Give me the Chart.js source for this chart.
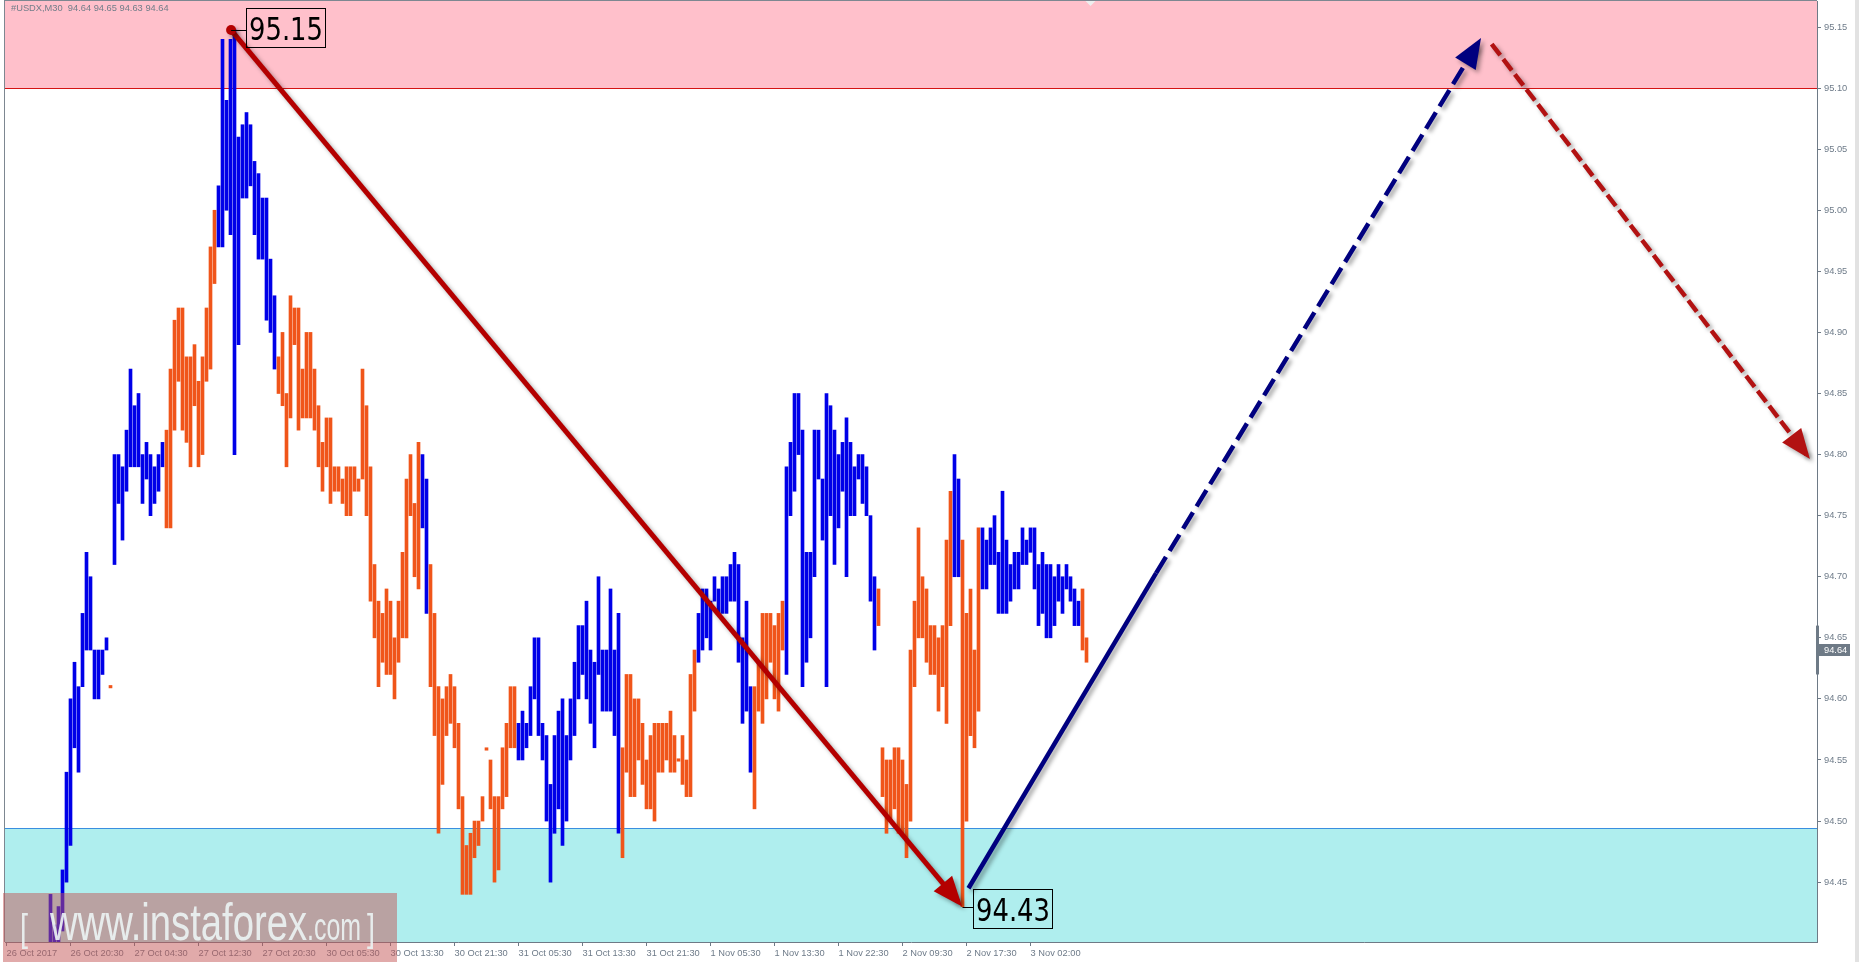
<!DOCTYPE html>
<html lang="en">
<head>
<meta charset="utf-8">
<title>#USDX,M30</title>
<script src="https://cdn.jsdelivr.net/npm/chart.js@4.4.1/dist/chart.umd.min.js"></script>
<style>
  html, body { margin: 0; padding: 0; background: #fff; overflow: hidden; }
  canvas { display: block; }
</style>
</head>
<body>
<canvas id="usdxChart" width="1859" height="962"></canvas>
<script>
// USDX M30, 26 Oct - 3 Nov 2017, with the wave markup
const symbolName = '#USDX,M30';
const lastQuote = [94.64, 94.65, 94.63, 94.64]; // open high low close of the last bar

const timeLabels = ['26 Oct 2017', '26 Oct 20:30', '27 Oct 04:30', '27 Oct 12:30', '27 Oct 20:30',
    '30 Oct 05:30', '30 Oct 13:30', '30 Oct 21:30', '31 Oct 05:30', '31 Oct 13:30', '31 Oct 21:30',
    '1 Nov 05:30', '1 Nov 13:30', '1 Nov 22:30', '2 Nov 09:30', '2 Nov 17:30', '3 Nov 02:00'];
const labelEvery = 16; // one time label every 16 bars
const priceTicks = [94.45, 94.50, 94.55, 94.60, 94.65, 94.70, 94.75, 94.80, 94.85, 94.90, 94.95, 95.00, 95.05, 95.10, 95.15];

const firstBar = 11; // the bars before this one are below the visible range
const highs = [
    94.44, 94.415, 94.43, 94.46, 94.54, 94.60, 94.63, 94.61, 94.67, 94.72, 94.70, 94.64, 94.64, 94.64, 94.65, 94.611, 94.80, 94.80, 94.79, 94.82,
    94.87, 94.84, 94.85, 94.80, 94.81, 94.80, 94.79, 94.80, 94.81, 94.82, 94.87, 94.91, 94.92, 94.92, 94.88, 94.88, 94.89, 94.86, 94.88, 94.92,
    94.97, 95.00, 95.02, 95.14, 95.09, 95.14, 95.148, 95.06, 95.07, 95.08, 95.07, 95.04, 95.03, 95.01, 95.01, 94.96, 94.93, 94.88, 94.90, 94.85,
    94.93, 94.92, 94.92, 94.87, 94.90, 94.90, 94.87, 94.84, 94.81, 94.83, 94.83, 94.79, 94.79, 94.78, 94.79, 94.79, 94.79, 94.78, 94.87, 94.84,
    94.79, 94.71, 94.68, 94.67, 94.69, 94.68, 94.65, 94.68, 94.72, 94.78, 94.80, 94.76, 94.81, 94.80, 94.78, 94.71, 94.67, 94.61, 94.60, 94.61,
    94.62, 94.61, 94.58, 94.52, 94.48, 94.49, 94.50, 94.50, 94.52, 94.560, 94.55, 94.52, 94.52, 94.56, 94.58, 94.61, 94.61, 94.58, 94.59, 94.58,
    94.61, 94.65, 94.65, 94.58, 94.57, 94.53, 94.57, 94.59, 94.60, 94.57, 94.60, 94.63, 94.66, 94.66, 94.68, 94.64, 94.63, 94.70, 94.64, 94.64,
    94.69, 94.64, 94.67, 94.56, 94.62, 94.62, 94.60, 94.60, 94.58, 94.55, 94.57, 94.58, 94.58, 94.58, 94.58, 94.59, 94.57, 94.551, 94.57, 94.55,
    94.62, 94.64, 94.67, 94.69, 94.69, 94.68, 94.70, 94.69, 94.70, 94.70, 94.71, 94.72, 94.71, 94.65, 94.68, 94.61, 94.61, 94.63, 94.67, 94.67,
    94.67, 94.66, 94.67, 94.68, 94.79, 94.81, 94.85, 94.85, 94.82, 94.72, 94.72, 94.82, 94.82, 94.78, 94.85, 94.84, 94.82, 94.80, 94.81, 94.83,
    94.81, 94.79, 94.80, 94.80, 94.79, 94.75, 94.70, 94.69, 94.56, 94.55, 94.55, 94.56, 94.56, 94.55, 94.53, 94.64, 94.68, 94.74, 94.70, 94.69,
    94.66, 94.66, 94.65, 94.66, 94.73, 94.77, 94.80, 94.78, 94.73, 94.67, 94.69, 94.64, 94.74, 94.74, 94.73, 94.74, 94.75, 94.72, 94.77, 94.73,
    94.71, 94.72, 94.72, 94.74, 94.73, 94.74, 94.74, 94.71, 94.72, 94.71, 94.71, 94.70, 94.71, 94.70, 94.71, 94.70, 94.69, 94.68, 94.69, 94.65
];
const lows = [
    94.37, 94.37, 94.37, 94.41, 94.45, 94.48, 94.56, 94.54, 94.61, 94.64, 94.64, 94.60, 94.60, 94.62, 94.64, 94.609, 94.71, 94.76, 94.73, 94.77,
    94.79, 94.79, 94.79, 94.76, 94.78, 94.75, 94.76, 94.77, 94.79, 94.74, 94.74, 94.82, 94.86, 94.82, 94.81, 94.79, 94.84, 94.79, 94.80, 94.86,
    94.87, 94.94, 94.97, 94.97, 95.00, 94.98, 94.80, 94.89, 95.01, 95.01, 95.02, 94.98, 94.96, 94.96, 94.91, 94.90, 94.87, 94.85, 94.84, 94.79,
    94.83, 94.89, 94.82, 94.83, 94.83, 94.83, 94.82, 94.79, 94.77, 94.79, 94.76, 94.77, 94.77, 94.76, 94.75, 94.75, 94.77, 94.77, 94.78, 94.75,
    94.68, 94.65, 94.61, 94.63, 94.62, 94.62, 94.60, 94.63, 94.65, 94.65, 94.75, 94.70, 94.69, 94.74, 94.67, 94.61, 94.57, 94.49, 94.53, 94.57,
    94.58, 94.56, 94.51, 94.44, 94.44, 94.44, 94.47, 94.48, 94.50, 94.558, 94.51, 94.45, 94.46, 94.51, 94.52, 94.56, 94.56, 94.55, 94.55, 94.56,
    94.57, 94.60, 94.57, 94.55, 94.50, 94.45, 94.49, 94.51, 94.48, 94.50, 94.55, 94.57, 94.60, 94.62, 94.60, 94.58, 94.56, 94.62, 94.59, 94.59,
    94.59, 94.57, 94.49, 94.47, 94.54, 94.52, 94.52, 94.55, 94.53, 94.51, 94.51, 94.50, 94.54, 94.54, 94.55, 94.54, 94.54, 94.549, 94.53, 94.52,
    94.52, 94.59, 94.63, 94.64, 94.65, 94.64, 94.68, 94.67, 94.67, 94.67, 94.68, 94.68, 94.63, 94.58, 94.59, 94.54, 94.51, 94.59, 94.58, 94.60,
    94.63, 94.60, 94.59, 94.64, 94.62, 94.75, 94.77, 94.80, 94.61, 94.63, 94.65, 94.70, 94.78, 94.73, 94.61, 94.75, 94.71, 94.74, 94.77, 94.70,
    94.75, 94.75, 94.78, 94.76, 94.75, 94.68, 94.64, 94.66, 94.52, 94.49, 94.50, 94.51, 94.49, 94.49, 94.47, 94.50, 94.61, 94.65, 94.65, 94.63,
    94.62, 94.62, 94.59, 94.61, 94.58, 94.66, 94.70, 94.70, 94.43, 94.50, 94.57, 94.56, 94.59, 94.69, 94.69, 94.71, 94.71, 94.67, 94.67, 94.67,
    94.68, 94.69, 94.69, 94.71, 94.71, 94.72, 94.69, 94.66, 94.67, 94.65, 94.65, 94.66, 94.68, 94.67, 94.69, 94.68, 94.66, 94.66, 94.64, 94.63
];
// 1 = bar closed up (blue), 0 = bar closed down (orange)
const rising = [
    1, 1, 1, 1, 1, 1, 1, 1, 1, 1, 1, 1, 1, 1, 1, 0, 1, 1, 1, 1,
    1, 1, 1, 1, 1, 1, 1, 1, 1, 0, 0, 0, 0, 0, 0, 0, 0, 0, 0, 0,
    0, 0, 1, 1, 1, 1, 1, 1, 1, 1, 1, 1, 1, 1, 1, 1, 1, 0, 0, 0,
    0, 0, 0, 0, 0, 0, 0, 0, 0, 0, 0, 0, 0, 0, 0, 0, 0, 0, 0, 0,
    0, 0, 0, 0, 0, 0, 0, 0, 0, 0, 0, 0, 0, 1, 1, 0, 0, 0, 0, 0,
    0, 0, 0, 0, 0, 0, 0, 0, 0, 0, 0, 0, 0, 0, 0, 0, 0, 1, 1, 1,
    1, 1, 1, 1, 1, 1, 1, 1, 1, 1, 1, 1, 1, 1, 1, 1, 1, 1, 1, 1,
    1, 1, 1, 0, 0, 0, 0, 0, 0, 0, 0, 0, 0, 0, 0, 0, 0, 0, 0, 0,
    0, 0, 1, 1, 1, 1, 1, 1, 1, 1, 1, 1, 1, 1, 1, 1, 0, 0, 0, 0,
    0, 0, 0, 0, 1, 1, 1, 1, 1, 1, 1, 1, 1, 1, 1, 1, 1, 1, 1, 1,
    1, 1, 1, 1, 1, 1, 1, 0, 0, 0, 0, 0, 0, 0, 0, 0, 0, 0, 0, 0,
    0, 0, 0, 0, 0, 0, 1, 1, 0, 0, 0, 0, 0, 1, 1, 1, 1, 1, 1, 1,
    1, 1, 1, 1, 1, 1, 1, 1, 1, 1, 1, 1, 1, 1, 1, 1, 1, 1, 0, 0
];

// zones
const sellZone = [95.10, 95.30];
const buyZone = [94.30, 94.494];

// wave lines, [bar, price]
const waveDown = [[56.15, 95.1475], [237.9, 94.434]];
const waveUp = [[240.5, 94.445], [287.4, 94.703]];
const waveUpNext = [[287.4, 94.703], [367.9, 95.137]];
const waveDownNext = [[371.3, 95.136], [450, 94.80]];

const peakLabel = { bar: 56.15, price: 95.1475, text: '95.15' };
const lowLabel = { bar: 239, price: 94.43, text: '94.43' };
const lastPrice = 94.64;
const lastRange = [94.62, 94.66];

const BLUE = '#0000e8';
const ORANGE = '#f0551a';
const AXIS_TEXT = '#6e7b89';
const AXIS_LINE = '#6e7a86';
const SMALL_FONT = '"Liberation Sans", Arial, sans-serif';

function fitText(ctx, text, font, left, baseline, width) {
    ctx.font = font;
    const w = ctx.measureText(text).width;
    ctx.save();
    ctx.translate(left, baseline);
    ctx.scale(width / w, 1);
    ctx.textAlign = 'left';
    ctx.textBaseline = 'alphabetic';
    ctx.fillText(text, 0, 0);
    ctx.restore();
}

function waveSet(points, colour, width, dash, head, dot) {
    return {
        type: 'line',
        data: points.map(p => ({ x: p[0], y: p[1] })),
        borderColor: colour,
        borderWidth: width,
        borderDash: dash,
        pointRadius: points.map((p, i) => (i === 0 ? dot : 0)),
        pointBackgroundColor: colour,
        pointBorderWidth: 0,
        fill: false,
        tension: 0,
        order: 1,
        wave: true,
        head: head
    };
}

// no label padding around the plot, the axes keep their fixed size
function noScalePadding(s) {
    s.paddingTop = 0;
    s.paddingBottom = 0;
    s.paddingLeft = 0;
    s.paddingRight = 0;
}

// zones and frame under the bars
const zonePlugin = {
    id: 'zones',
    beforeDatasetsDraw(chart) {
        const { ctx, chartArea: a, scales: { y } } = chart;
        ctx.save();
        const sTop = Math.max(a.top, y.getPixelForValue(sellZone[1]));
        const sBot = Math.round(y.getPixelForValue(sellZone[0]));
        ctx.fillStyle = 'pink';
        ctx.fillRect(a.left, sTop, a.width, sBot - sTop);
        ctx.fillStyle = '#d41414';
        ctx.fillRect(a.left, sBot, a.width, 1);

        const bTop = Math.round(y.getPixelForValue(buyZone[1]));
        const bBot = Math.min(a.bottom, y.getPixelForValue(buyZone[0]));
        ctx.fillStyle = 'paleturquoise';
        ctx.fillRect(a.left, bTop, a.width, bBot - bTop);
        ctx.fillStyle = '#3a8ee0';
        ctx.fillRect(a.left, bTop, a.width, 1);

        // shift marker at the top
        const sx = chart.scales.x.getPixelForValue(firstBar + highs.length);
        ctx.fillStyle = '#eeeeee';
        ctx.beginPath();
        ctx.moveTo(sx - 5, a.top);
        ctx.lineTo(sx + 5, a.top);
        ctx.lineTo(sx, a.top + 5);
        ctx.closePath();
        ctx.fill();
        ctx.restore();
    }
};

// soft shadow under the wave lines
const shadowPlugin = {
    id: 'waveShadow',
    beforeDatasetDraw(chart, args) {
        if (!chart.data.datasets[args.index].wave) return;
        const ctx = chart.ctx;
        ctx.save();
        ctx.shadowColor = 'rgba(0, 0, 0, 0.35)';
        ctx.shadowBlur = 4;
        ctx.shadowOffsetX = 3;
        ctx.shadowOffsetY = 3;
    },
    afterDatasetDraw(chart, args) {
        if (!chart.data.datasets[args.index].wave) return;
        chart.ctx.restore();
    }
};

const markupPlugin = {
    id: 'markup',
    afterDatasetsDraw(chart) {
        const { ctx, scales: { x, y } } = chart;
        // arrow heads
        chart.data.datasets.forEach((ds, i) => {
            if (!ds.head) return;
            const pts = chart.getDatasetMeta(i).data;
            const a = pts[pts.length - 2], b = pts[pts.length - 1];
            const ang = Math.atan2(b.y - a.y, b.x - a.x);
            const len = 30, half = 12, extra = ds.borderWidth / 2 * len / half;
            const tx = b.x + extra * Math.cos(ang), ty = b.y + extra * Math.sin(ang);
            const bx = tx - len * Math.cos(ang), by = ty - len * Math.sin(ang);
            ctx.save();
            ctx.shadowColor = 'rgba(0, 0, 0, 0.35)';
            ctx.shadowBlur = 4;
            ctx.shadowOffsetX = 3;
            ctx.shadowOffsetY = 3;
            ctx.fillStyle = ds.borderColor;
            ctx.beginPath();
            ctx.moveTo(tx, ty);
            ctx.lineTo(bx + half * Math.sin(ang), by - half * Math.cos(ang));
            ctx.lineTo(bx - half * Math.sin(ang), by + half * Math.cos(ang));
            ctx.closePath();
            ctx.fill();
            ctx.restore();
        });

        // price boxes
        [[peakLabel, 15, -3], [lowLabel, 10.5, 2]].forEach(([lab, dx, dy]) => {
            const px = x.getPixelForValue(lab.bar), py = y.getPixelForValue(lab.price);
            const w = 79, h = 39;
            const bx = Math.round(px + dx) + 0.5, by = Math.round(py + dy - h / 2) + 0.5;
            const ly = Math.round(py) + 0.5;
            ctx.save();
            ctx.strokeStyle = '#000';
            ctx.lineWidth = 1;
            ctx.beginPath();
            ctx.moveTo(px, ly);
            ctx.lineTo(bx, ly);
            ctx.stroke();
            ctx.strokeRect(bx, by, w, h);
            ctx.fillStyle = '#000';
            fitText(ctx, lab.text, '32px "DejaVu Sans", sans-serif', bx + 2.5, by + h / 2 + 12, 74);
            ctx.restore();
        });
    },
    afterDraw(chart) {
        const { ctx, chartArea: a, scales: { y } } = chart;
        ctx.save();
        // frame
        ctx.fillStyle = '#7d8791';
        ctx.fillRect(a.left - 1, 0, 1, a.bottom);
        ctx.fillRect(a.left - 1, 0, a.right - a.left + 1, 1);
        ctx.fillStyle = '#e2e2e2';
        ctx.fillRect(1855, 0, 4, chart.height);

        // header
        ctx.fillStyle = '#717d89';
        ctx.font = '9.3px ' + SMALL_FONT;
        ctx.textBaseline = 'top';
        ctx.textAlign = 'left';
        ctx.fillText(symbolName + '  ' + lastQuote.map(v => v.toFixed(2)).join(' '), 11, 4);

        // last price on the axis
        const yTop = y.getPixelForValue(lastRange[1]), yBot = y.getPixelForValue(lastRange[0]);
        ctx.fillStyle = AXIS_LINE;
        ctx.fillRect(a.right - 1, yTop, 3, yBot - yTop);
        const yp = Math.round(y.getPixelForValue(lastPrice));
        ctx.fillRect(a.right + 1, yp - 6, 32, 12);
        ctx.fillStyle = '#ffffff';
        ctx.textBaseline = 'middle';
        ctx.fillText(lastPrice.toFixed(2), a.right + 7, yp + 0.5);

        // watermark
        ctx.fillStyle = 'rgba(195, 85, 85, 0.5)';
        ctx.fillRect(3, 893, 394, chart.height - 893);
        ctx.fillStyle = 'rgba(236, 244, 244, 0.9)';
        fitText(ctx, '[', '38px ' + SMALL_FONT, 20, 941, 8);
        fitText(ctx, 'www.instaforex', '52px ' + SMALL_FONT, 50, 940, 257);
        fitText(ctx, '.com', '38px ' + SMALL_FONT, 307, 940, 54);
        fitText(ctx, ']', '38px ' + SMALL_FONT, 367, 941, 8);
        ctx.restore();
    }
};

const barSet = {
    type: 'bar',
    data: highs.map((h, i) => ({ x: firstBar + i, y: [lows[i], h] })),
    backgroundColor: rising.map(r => (r ? BLUE : ORANGE)),
    borderWidth: 0,
    barThickness: 3,
    grouped: false,
    order: 2
};

new Chart(document.getElementById('usdxChart'), {
    type: 'bar',
    data: {
        datasets: [
            waveSet(waveDown, '#b40000', 5, [], true, 5),
            waveSet(waveUp, '#00007f', 4.5, [], false, 0),
            waveSet(waveUpNext, '#00007f', 4.5, [19, 7], true, 0),
            waveSet(waveDownNext, '#b21212', 4.5, [14, 5], true, 0),
            barSet
        ]
    },
    options: {
        responsive: false,
        devicePixelRatio: 1,
        animation: false,
        events: [],
        layout: { padding: { left: 5, top: 1, right: 0, bottom: 0 }, autoPadding: false },
        plugins: { legend: { display: false }, tooltip: { enabled: false } },
        scales: {
            x: {
                type: 'linear',
                position: 'bottom',
                min: -0.375,
                max: 452.625,
                offset: false,
                afterBuildTicks: s => { s.ticks = timeLabels.map((t, j) => ({ value: j * labelEvery })); },
                afterFit: s => { s.height = 20; noScalePadding(s); },
                ticks: {
                    autoSkip: false,
                    maxRotation: 0,
                    minRotation: 0,
                    align: 'start',
                    padding: 2,
                    color: AXIS_TEXT,
                    font: { family: SMALL_FONT, size: 9.3 },
                    callback: v => timeLabels[Math.round(v / labelEvery)]
                },
                grid: { drawOnChartArea: false, tickLength: 4, color: AXIS_LINE, offset: false },
                border: { color: AXIS_LINE }
            },
            y: {
                type: 'linear',
                position: 'right',
                min: 94.401,
                max: 95.1713,
                afterBuildTicks: s => { s.ticks = priceTicks.map(v => ({ value: v })); },
                afterFit: s => { s.width = 42; noScalePadding(s); },
                ticks: {
                    padding: 3,
                    color: AXIS_TEXT,
                    font: { family: SMALL_FONT, size: 9.3 },
                    callback: v => v.toFixed(2)
                },
                grid: { drawOnChartArea: false, tickLength: 4, color: AXIS_LINE },
                border: { color: AXIS_LINE }
            }
        }
    },
    plugins: [zonePlugin, shadowPlugin, markupPlugin]
});
</script>
</body>
</html>
